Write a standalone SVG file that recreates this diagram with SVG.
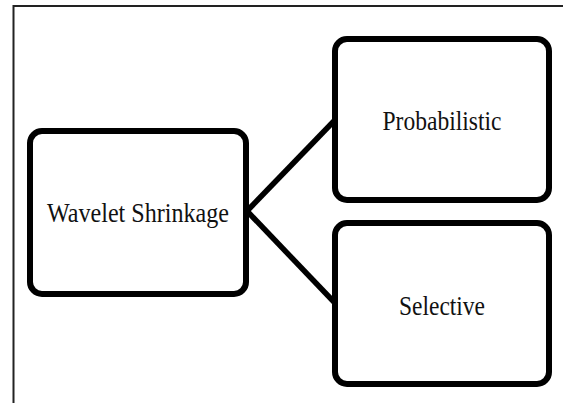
<svg xmlns="http://www.w3.org/2000/svg" width="563" height="403" viewBox="0 0 563 403">
<style>
.box{fill:#fff;stroke:#000;stroke-width:6}
.lbl{font-family:"Liberation Serif","Times New Roman",serif;font-size:27px;fill:#111;text-anchor:middle}
.conn{stroke:#000;stroke-width:5.5;fill:none;stroke-linecap:butt}
.frame{stroke:#222;stroke-width:2;fill:none}
</style>
<rect width="563" height="403" fill="#fff"/>
<path class="frame" d="M13.5,403 V6 H563"/>
<g id="connectors">
<path class="conn" d="M247,211 L334,121"/>
<path class="conn" d="M247,211 L334,302"/>
</g>
<g id="wavelet">
<rect class="box" x="30" y="131" width="216" height="163" rx="12"/>
<text class="lbl" x="138" y="222" textLength="182" lengthAdjust="spacingAndGlyphs">Wavelet Shrinkage</text>
</g>
<g id="probabilistic">
<rect class="box" x="335" y="39" width="214" height="161" rx="12"/>
<text class="lbl" x="442" y="130" textLength="119" lengthAdjust="spacingAndGlyphs">Probabilistic</text>
</g>
<g id="selective">
<rect class="box" x="335" y="223" width="214" height="161" rx="12"/>
<text class="lbl" x="442" y="315" textLength="86" lengthAdjust="spacingAndGlyphs">Selective</text>
</g>
</svg>
